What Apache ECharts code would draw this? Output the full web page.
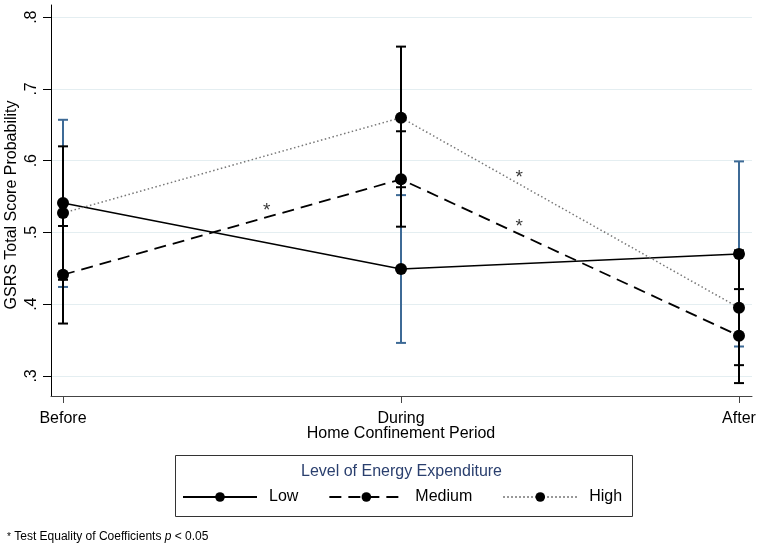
<!DOCTYPE html>
<html><head><meta charset="utf-8">
<script src="https://cdn.jsdelivr.net/npm/echarts@6/dist/echarts.min.js"></script>
<style>html,body{margin:0;padding:0;background:#fff}#c{width:761px;height:548px}</style>
</head><body><div id="c"></div>
<script>
const periods = ['Before', 'During', 'After'];
const yTicks = [0.3, 0.4, 0.5, 0.6, 0.7, 0.8];
const yTickLabels = ['.3', '.4', '.5', '.6', '.7', '.8'];
const seriesNames = ['Low', 'Medium', 'High'];
const lowMean = [0.541, 0.449, 0.470];
const lowLower = [0.424, 0.346, 0.341];
const lowUpper = [0.657, 0.552, 0.599];
const medMean = [0.441, 0.574, 0.356];
const medLower = [0.373, 0.508, 0.290];
const medUpper = [0.509, 0.641, 0.421];
const highMean = [0.527, 0.660, 0.395];
const highLower = [0.434, 0.563, 0.315];
const highUpper = [0.620, 0.759, 0.475];
const starX = [0.603, 1.35, 1.35];
const starY = [0.533, 0.5795, 0.51];
const xTitle = 'Home Confinement Period';
const yTitle = 'GSRS Total Score Probability';
const legendTitle = 'Level of Energy Expenditure';

const FONT = 'Liberation Sans, Arial, sans-serif';

function ciSeries(lower, upper, color, z) {
  return {
    type: 'custom', z: z, silent: true,
    data: lower.map((l, i) => [i, l, upper[i]]),
    encode: { x: 0, y: [1, 2] },
    renderItem: function (params, api) {
      const x = api.value(0);
      const lo = api.coord([x, api.value(1)]);
      const hi = api.coord([x, api.value(2)]);
      const hw = 5;
      const st = { stroke: color, lineWidth: 2 };
      return {
        type: 'group', children: [
          { type: 'line', shape: { x1: lo[0], y1: lo[1], x2: hi[0], y2: hi[1] }, style: st },
          { type: 'line', shape: { x1: lo[0] - hw, y1: lo[1], x2: lo[0] + hw, y2: lo[1] }, style: st },
          { type: 'line', shape: { x1: hi[0] - hw, y1: hi[1], x2: hi[0] + hw, y2: hi[1] }, style: st }
        ]
      };
    }
  };
}

function lineSeries(name, vals, lineStyle, z) {
  return {
    name: name, type: 'line', z: z,
    data: vals.map((v, i) => [i, v]),
    symbol: 'circle', symbolSize: 12,
    itemStyle: { color: '#000' },
    lineStyle: lineStyle,
    emphasis: { disabled: true },
    animation: false
  };
}

const chart = echarts.init(document.getElementById('c'));
chart.setOption({
  animation: false,
  backgroundColor: '#fff',
  textStyle: { fontFamily: FONT },
  grid: { left: 51, right: 9, top: 5, bottom: 152, containLabel: false, outerBoundsMode: 'none' },
  xAxis: {
    type: 'value', min: -0.0355, max: 2.0385,
    axisLine: { onZero: false, lineStyle: { color: '#444', width: 1 } },
    axisTick: { length: 7, customValues: [0, 1, 2], lineStyle: { color: '#444' } },
    axisLabel: { customValues: [0, 1, 2], formatter: v => periods[Math.round(v)], fontSize: 16, color: '#000', margin: 15, fontFamily: FONT },
    splitLine: { show: false }
  },
  yAxis: {
    type: 'value', min: 0.272, max: 0.817,
    axisLine: { show: true, onZero: false, lineStyle: { color: '#000', width: 1 } },
    axisTick: { show: true, length: 8, customValues: yTicks, lineStyle: { color: '#000' } },
    axisLabel: { customValues: yTicks, rotate: 90, formatter: v => yTickLabels[yTicks.findIndex(t => Math.abs(t - v) < 1e-6)], fontSize: 16, color: '#000', margin: 11, fontFamily: FONT },
    splitLine: { show: true, lineStyle: { color: '#e4eef1', width: 1.2 } }
  },
  legend: {
    data: seriesNames, left: 182, top: 489, padding: 0, itemWidth: 74, itemHeight: 12, itemGap: 30,
    selectedMode: false,
    textStyle: { fontSize: 16, color: '#000', fontFamily: FONT, padding: [0, 0, 0, 7] }
  },
  series: [
    ciSeries(lowLower, lowUpper, '#3d6a96', 1),
    ciSeries(medLower, medUpper, '#000', 2),
    ciSeries(highLower, highUpper, '#000', 2),
    lineSeries('Low', lowMean, { color: '#000', width: 1.6, type: 'solid' }, 4),
    lineSeries('Medium', medMean, { color: '#000', width: 1.8, type: [12, 7] }, 4),
    lineSeries('High', highMean, { color: '#777', width: 1.5, type: [1.5, 2.5] }, 4),
    {
      type: 'scatter', z: 5, silent: true,
      data: starX.map((x, i) => [x, starY[i]]),
      symbolSize: 0,
      label: { show: true, position: 'inside', formatter: '*', fontSize: 19, color: '#000', offset: [0, 2], fontFamily: FONT }
    }
  ],
  graphic: [
    { type: 'text', x: 12, y: 205, rotation: Math.PI / 2, style: { text: yTitle, fontSize: 16, fill: '#000', fontFamily: FONT, align: 'center', verticalAlign: 'middle' } },
    { type: 'text', x: 401, y: 433.5, style: { text: xTitle, fontSize: 16, fill: '#000', fontFamily: FONT, align: 'center', verticalAlign: 'middle' } },
    { type: 'rect', left: 173, top: 453, shape: { width: 457, height: 61 }, style: { fill: 'none', stroke: '#333', lineWidth: 1 } },
    { type: 'text', x: 401.5, y: 472, style: { text: legendTitle, fontSize: 16, fill: '#2a3f6e', fontFamily: FONT, align: 'center', verticalAlign: 'middle' } },
    { type: 'text', x: 7, y: 537, style: {
        text: '{s|*} {t|Test Equality of Coefficients }{i|p}{t| < 0.05}',
        verticalAlign: 'middle',
        rich: {
          s: { fontSize: 10, fill: '#000', fontFamily: FONT },
          t: { fontSize: 12, fill: '#000', fontFamily: FONT },
          i: { fontSize: 12, fill: '#000', fontStyle: 'italic', fontFamily: FONT }
        } } }
  ]
});
</script></body></html>
